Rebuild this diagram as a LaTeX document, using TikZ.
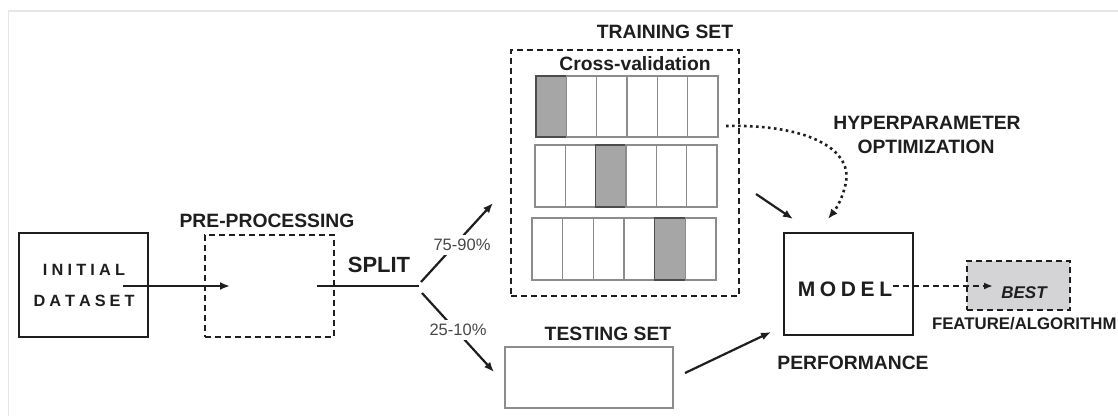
\documentclass[tikz,border=0pt]{standalone}
\usepackage{fontspec}
\setmainfont{Liberation Sans}
\usetikzlibrary{arrows.meta}
\definecolor{txt}{HTML}{1E1E1E}
\definecolor{pctc}{HTML}{474747}
\definecolor{cellc}{HTML}{8C8C8C}
\definecolor{shade}{HTML}{A6A6A6}
\definecolor{bestfill}{HTML}{D4D4D6}
\definecolor{framec}{HTML}{E6E6E6}
\begin{document}
\begin{tikzpicture}[x=1pt,y=-1pt,
  every node/.style={inner sep=0pt, outer sep=0pt},
  lbl/.style={font=\fontsize{19.3}{22}\selectfont\bfseries, text=txt},
  pct/.style={font=\fontsize{16.5}{18}\selectfont, text=pctc, fill=white, inner xsep=2pt, inner ysep=4pt},
  thickbox/.style={draw=txt, line width=2.6pt},
  dbox/.style={draw=txt, line width=1.8pt, dash pattern=on 6pt off 4pt},
  arr/.style={draw=txt, line width=2.2pt, -{Latex[length=10pt,width=8pt]}},
  plainline/.style={draw=txt, line width=2.2pt},
  cellstyle/.style={draw=cellc, line width=1.2pt},
  shadecell/.style={draw=black!70, fill=shade, line width=1.2pt},
]
\useasboundingbox (0,0) rectangle (1118,416);
\draw[framec, line width=1.5pt] (8.5,416) -- (8.5,11) -- (1118,11);

% initial dataset
\node[thickbox, minimum width=129pt, minimum height=104pt] (init) at (83.5,285) {};
\node[font=\fontsize{16.3}{31}\selectfont\bfseries, text=txt, align=center] (inittxt) at (84,285.5)
  {I\kern4.2pt N\kern4.2pt I\kern4.2pt T\kern4.2pt I\kern4.2pt A\kern4.2pt L\\D\kern4pt A\kern4pt T\kern4pt A\kern4pt S\kern4pt E\kern4pt T};

% pre-processing
\node[dbox, minimum width=129pt, minimum height=102pt] (pre) at (269.5,286) {};
\node[lbl] (prelbl) at (267,221) {PRE-PROCESSING};
\coordinate (a0) at (123,286);
\coordinate (a1) at (230,286);
\draw[arr] (a0) -- (a1);

% split
\coordinate (s0) at (317,286);
\coordinate (sp) at (419,286);
\draw[plainline] (s0) -- (sp);
\node[font=\fontsize{22}{24}\selectfont\bfseries, text=txt] (splitlbl) at (379,265) {SPLIT};
\coordinate (b1s) at (421,282);
\coordinate (b1e) at (493,203);
\coordinate (b2s) at (422,293);
\coordinate (b2e) at (494,372);
\draw[arr] (b1s) -- (b1e);
\draw[arr] (b2s) -- (b2e);
\node[pct] (p1) at (462,245) {75-90\%};
\node[pct] (p2) at (458,330) {25-10\%};

% training set
\node[dbox, minimum width=228pt, minimum height=246pt] (train) at (625,173) {};
\node[lbl] (trainlbl) at (665,32) {TRAINING SET};
\node[lbl] (cvlbl) at (635,64) {Cross-validation};

% rows of folds
\foreach \xa/\xb/\ya/\yb/\sh in {536/718/76/137/0, 535/717/145/207/2, 532/716/218/280/4}{
  \pgfmathsetmacro{\w}{(\xb-\xa)/6}
  \foreach \i in {0,...,5}{
    \pgfmathsetmacro{\cx}{\xa+\i*\w}
    \pgfmathsetmacro{\cxx}{\xa+(\i+1)*\w}
    \ifnum\i=\sh
      \draw[shadecell] (\cx,\ya) rectangle (\cxx,\yb);
    \else
      \draw[cellstyle] (\cx,\ya) rectangle (\cxx,\yb);
    \fi
  }
}

% testing set
\node[draw=cellc, line width=1.3pt, minimum width=168pt, minimum height=61pt] (test) at (589,377.5) {};
\node[lbl] (testlbl) at (608,334) {TESTING SET};

% model
\node[thickbox, minimum width=129pt, minimum height=102pt] (model) at (848.5,284) {};
\node[font=\fontsize{21}{22}\selectfont\bfseries, text=txt] (modeltxt) at (845,289)
  {M\kern4.6pt O\kern4.6pt D\kern4.6pt E\kern4.6pt L};
\node[lbl] (perf) at (853,363) {PERFORMANCE};

% hyperparameter optimization
\node[lbl] (hyp1) at (927,123) {HYPERPARAMETER};
\node[lbl] (hyp2) at (926,147) {OPTIMIZATION};
\coordinate (h0) at (726,126);
\coordinate (h1) at (828,219);
\draw[txt, line width=2.6pt, dash pattern=on 2.6pt off 3.4pt, -{Latex[length=10pt,width=8pt]}]
  (h0) .. controls (805,124) and (852,148) .. (846,182) .. controls (843,198) and (836,209) .. (h1);

% arrows into model
\coordinate (m0) at (756,194);
\coordinate (m1) at (793,219);
\draw[arr] (m0) -- (m1);
\coordinate (t0) at (685,373);
\coordinate (t1) at (771,332);
\draw[arr] (t0) -- (t1);

% best
\node[draw=txt, fill=bestfill, line width=1.8pt, dash pattern=on 6pt off 4pt, minimum width=103pt, minimum height=49pt] (best) at (1018.5,285.5) {};
\coordinate (d1) at (993,286);
\draw[txt, line width=1.8pt, dash pattern=on 6pt off 4pt, -{Latex[length=9pt,width=7pt]}] (modeltxt.east) ++(1,-3) -- (d1);
\node[font=\fontsize{17}{19}\selectfont\bfseries\itshape, text=txt] (besttxt) at (1024,293) {BEST};
\node[font=\fontsize{16.8}{19}\selectfont\bfseries, text=txt, anchor=west] (feat) at (932,324) {FEATURE/ALGORITHM};
\end{tikzpicture}
\end{document}
